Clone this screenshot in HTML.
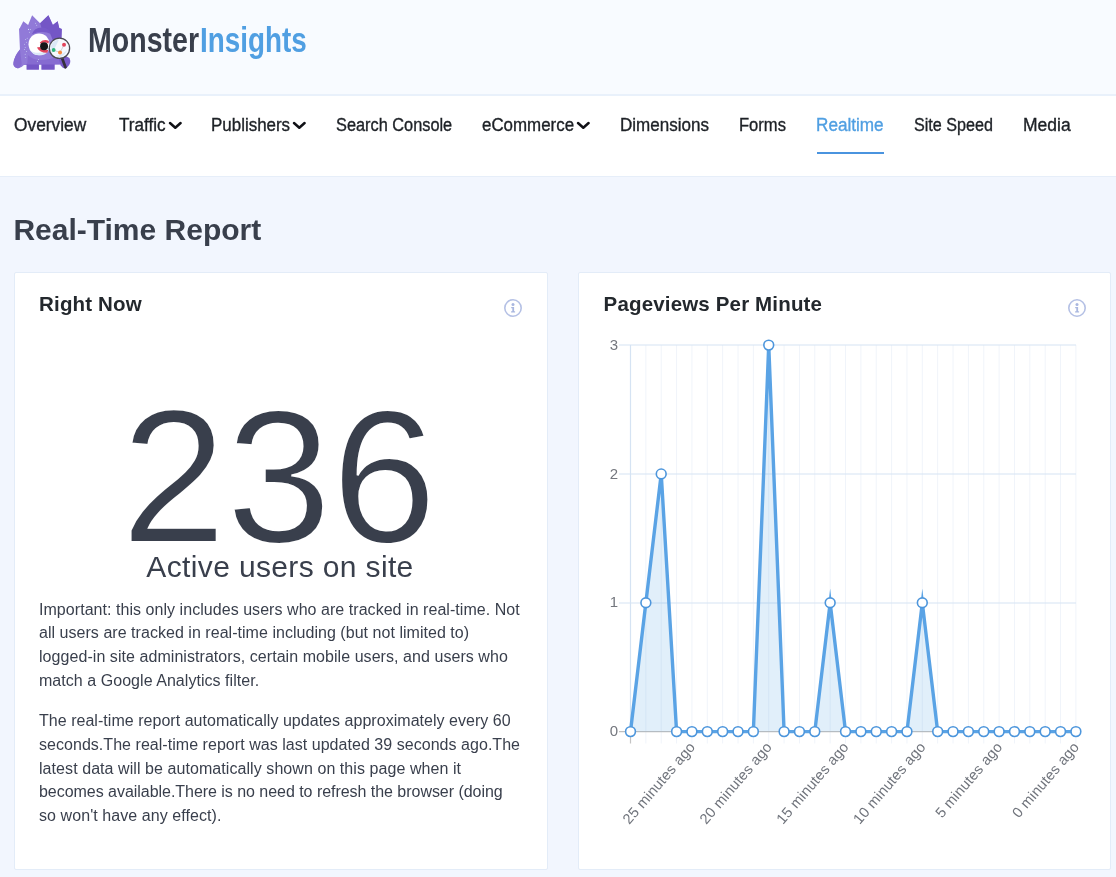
<!DOCTYPE html>
<html lang="en">
<head>
<meta charset="utf-8">
<title>MonsterInsights - Real-Time Report</title>
<style>
*{box-sizing:border-box;margin:0;padding:0}
html,body{width:1116px;height:877px;overflow:hidden}
body{background:#f2f6fe;font-family:"Liberation Sans",Arial,sans-serif;color:#393f4c;position:relative}
.header{position:absolute;left:0;top:0;width:1116px;height:94px;background:#f8fbff}
.hborder{position:absolute;left:0;top:94px;width:1116px;height:2px;background:#e9f1fb}
.logo-icon{position:absolute;left:8px;top:8px;width:72px;height:70px}
.lt{position:absolute;top:20.3px;font-weight:bold;font-size:35px;line-height:40px;white-space:nowrap;color:#393f4c;transform-origin:0 50%}
.lt1{left:88px;transform:scaleX(.8156)}
.lt2{left:200.4px;color:#509fe2;transform:scaleX(.796)}
.nav{position:absolute;left:0;top:96px;width:1116px;height:80px;background:#fff}
.nborder{position:absolute;left:0;top:176px;width:1116px;height:1px;background:#e6eef9}
.nav a{position:absolute;top:17px;height:24px;line-height:24px;font-size:18px;color:#1d2126;white-space:nowrap;text-decoration:none;transform-origin:0 50%;-webkit-text-stroke:.35px currentColor}
.nav a.act{color:#509fe2}
.nav .ul{position:absolute;left:817px;top:56px;width:67px;height:2px;background:#4a94df}
.nav .chev{position:absolute;top:24.4px}
h1{position:absolute;left:13.4px;top:212px;font-size:30px;line-height:36px;font-weight:bold;color:#393f4c;white-space:nowrap}
.card{position:absolute;top:271.5px;height:598px;background:#fff;border:1px solid #e3ecf8;border-radius:2px}
.c1{left:13.5px;width:534px}
.c2{left:578px;width:533px}
.card h2{position:absolute;left:24.6px;top:18px;font-size:20.5px;letter-spacing:.16px;line-height:26px;font-weight:bold;color:#23282d;white-space:nowrap}
.info{position:absolute}
.big{position:absolute;left:0;width:532px;text-align:center;top:373px;font-size:188.5px;line-height:206px;transform:scaleX(1.004);-webkit-text-stroke:2px #fff;color:#393f4c;white-space:nowrap}
.sub{position:absolute;left:0;width:532px;text-align:center;top:550px;font-size:30px;letter-spacing:.36px;line-height:34px;color:#393f4c;white-space:nowrap}
.txt{position:absolute;left:24.5px;font-size:16px;line-height:23.7px;color:#393f4c;white-space:nowrap}
.txt span{display:block;height:23.7px}
.chart{position:absolute;overflow:visible}
</style>
</head>
<body>
<div class="header">
  <svg class="logo-icon" viewBox="0 0 902 877">
<path d="M138,262 L150,248 L192,166 L252,212 L302,90 L402,192 L506,90 L562,212 L622,166 L642,252 L674,262 L668,420 L700,600 L660,705 L200,715 Q160,760 120,755 Q60,740 68,690 Q80,600 150,520 Z" fill="#917ad8"/>
<path d="M402,192 L506,90 L562,212 L622,166 L642,252 L674,262 L668,420 L560,400 L520,300 L420,250 Z" fill="#7456c6"/>
<path d="M300,330 Q330,240 430,245 Q520,250 545,330 Q430,270 300,330 Z" fill="#775ac9"/>
<path d="M68,690 Q80,600 150,520 L172,705 Q150,760 120,755 Q60,740 68,690 Z" fill="#866bd1"/>
<rect x="232" y="700" width="156" height="74" rx="8" fill="#7456c6"/>
<rect x="418" y="700" width="167" height="74" rx="8" fill="#7456c6"/>
<path d="M250,590 Q330,680 520,640 L700,600 L660,708 L240,708 Z" fill="#866bd1"/>
<g fill="#d7e6f8"><circle cx="258" cy="268" r="7"/><circle cx="282" cy="270" r="6"/><circle cx="268" cy="305" r="6"/><circle cx="218" cy="395" r="6"/><circle cx="240" cy="380" r="6"/><circle cx="208" cy="455" r="6"/><circle cx="230" cy="430" r="6"/><circle cx="215" cy="495" r="6"/><circle cx="205" cy="520" r="6"/><circle cx="232" cy="545" r="6"/><circle cx="215" cy="580" r="6"/><circle cx="222" cy="620" r="6"/><circle cx="345" cy="190" r="6"/><circle cx="360" cy="215" r="6"/><circle cx="382" cy="645" r="6"/><circle cx="368" cy="668" r="6"/></g>
<ellipse cx="389" cy="455" rx="132" ry="137" fill="#fff"/>
<path d="M262,500 Q300,600 420,592 Q500,582 520,500 Q450,570 350,560 Q290,550 262,500 Z" fill="#dbe8f7"/>
<path d="M398,432 Q450,385 512,412 L508,445 Q450,415 412,448 Z" fill="#e2445c"/>
<path d="M362,494 Q400,565 492,562 L505,525 Q430,535 396,488 Z" fill="#e2445c"/>
<circle cx="452" cy="480" r="50" fill="#17161a"/>
<path d="M630,610 Q700,580 770,625 Q800,690 740,745 Q700,775 660,720 Z" fill="#7a5bca"/>
<path d="M678,630 L720,742" stroke="#35303c" stroke-width="34" stroke-linecap="round"/>
<circle cx="645" cy="505" r="127" fill="#f6f9fe" stroke="#4b4a52" stroke-width="16"/>
<path d="M538,475 Q560,402 640,394 Q600,470 560,565 Q538,525 538,475 Z" fill="#dce8f7"/>
<path d="M590,595 Q660,605 742,525 Q700,615 640,618 Z" fill="#dce8f7"/>
<path d="M540,555 L572,528 L652,558 L702,460" fill="none" stroke="#a9a9ad" stroke-width="6"/>
<circle cx="572" cy="526" r="24" fill="#2fb57c"/>
<circle cx="652" cy="558" r="25" fill="#f68a40"/>
<circle cx="702" cy="460" r="25" fill="#e2445c"/>
</svg>
  <div class="lt lt1">Monster</div><div class="lt lt2">Insights</div>
</div>
<div class="hborder"></div>
<div class="nav">
  <a style="left:13.63px;transform:scaleX(0.9624)">Overview</a>
  <a style="left:118.76px;transform:scaleX(0.9513)">Traffic</a>
  <a style="left:210.98px;transform:scaleX(0.9410)">Publishers</a>
  <a style="left:335.66px;transform:scaleX(0.9073)">Search Console</a>
  <a style="left:482.34px;transform:scaleX(0.9395)">eCommerce</a>
  <a style="left:619.62px;transform:scaleX(0.9453)">Dimensions</a>
  <a style="left:739.35px;transform:scaleX(0.9198)">Forms</a>
  <a class="act" style="left:816.46px;transform:scaleX(0.9522)">Realtime</a>
  <a style="left:914.33px;transform:scaleX(0.8974)">Site Speed</a>
  <a style="left:1022.79px;transform:scaleX(0.9717)">Media</a>
  <svg class="chev" style="left:166.5px" width="16" height="12" viewBox="-3 -3 16 12"><path d="M0,0 L5.3,4.7 L10.6,0" fill="none" stroke="#101116" stroke-width="2.5" stroke-linecap="round" stroke-linejoin="round"/></svg>
  <svg class="chev" style="left:291.1px" width="16" height="12" viewBox="-3 -3 16 12"><path d="M0,0 L5.3,4.7 L10.6,0" fill="none" stroke="#101116" stroke-width="2.5" stroke-linecap="round" stroke-linejoin="round"/></svg>
  <svg class="chev" style="left:575.3px" width="16" height="12" viewBox="-3 -3 16 12"><path d="M0,0 L5.3,4.7 L10.6,0" fill="none" stroke="#101116" stroke-width="2.5" stroke-linecap="round" stroke-linejoin="round"/></svg>
  <div class="ul"></div>
</div>
<div class="nborder"></div>
<h1>Real-Time Report</h1>
<div class="card c1">
  <h2>Right Now</h2>
  <svg class="info" style="left:486.0px;top:23.5px" width="24" height="24" viewBox="-12 -12 24 24"><circle r="8.2" fill="none" stroke="#b5c1e5" stroke-width="1.6"/><circle cy="-3.6" r="1.5" fill="#a9b7e0"/><path d="M-1.8,-0.9 H1.1 V3.3 H2.1 V4.4 H-1.9 V3.3 H-0.7 V0.3 H-1.8 Z" fill="#a9b7e0"/></svg>
  <div class="big" style="left:-1.5px;top:101.5px">236</div>
  <div class="sub" style="left:-.5px;top:277.5px">Active users on site</div>
<div class="txt" style="top:325.15px">
<span style="letter-spacing:0.047px">Important: this only includes users who are tracked in real-time. Not</span>
<span style="letter-spacing:0.037px">all users are tracked in real-time including (but not limited to)</span>
<span style="letter-spacing:0.057px">logged-in site administrators, certain mobile users, and users who</span>
<span style="letter-spacing:0.045px">match a Google Analytics filter.</span>
</div>
<div class="txt" style="top:436.75px">
<span style="letter-spacing:0.033px">The real-time report automatically updates approximately every 60</span>
<span style="letter-spacing:0.040px">seconds.The real-time report was last updated 39 seconds ago.The</span>
<span style="letter-spacing:0.068px">latest data will be automatically shown on this page when it</span>
<span style="letter-spacing:-0.037px">becomes available.There is no need to refresh the browser (doing</span>
<span style="letter-spacing:0.072px">so won't have any effect).</span>
</div>
</div>
<div class="card c2">
  <h2>Pageviews Per Minute</h2>
  <svg class="info" style="left:485.6px;top:23.5px" width="24" height="24" viewBox="-12 -12 24 24"><circle r="8.2" fill="none" stroke="#b5c1e5" stroke-width="1.6"/><circle cy="-3.6" r="1.5" fill="#a9b7e0"/><path d="M-1.8,-0.9 H1.1 V3.3 H2.1 V4.4 H-1.9 V3.3 H-0.7 V0.3 H-1.8 Z" fill="#a9b7e0"/></svg>
<svg class="chart" width="1116" height="877" viewBox="0 0 1116 877" style="left:-579px;top:-272.5px">
<g stroke="#f0f4fa" stroke-width="1">
<line x1="645.86" y1="345" x2="645.86" y2="743.5"/>
<line x1="661.22" y1="345" x2="661.22" y2="743.5"/>
<line x1="676.58" y1="345" x2="676.58" y2="743.5"/>
<line x1="691.93" y1="345" x2="691.93" y2="743.5"/>
<line x1="707.29" y1="345" x2="707.29" y2="743.5"/>
<line x1="722.65" y1="345" x2="722.65" y2="743.5"/>
<line x1="738.01" y1="345" x2="738.01" y2="743.5"/>
<line x1="753.37" y1="345" x2="753.37" y2="743.5"/>
<line x1="768.73" y1="345" x2="768.73" y2="743.5"/>
<line x1="784.09" y1="345" x2="784.09" y2="743.5"/>
<line x1="799.44" y1="345" x2="799.44" y2="743.5"/>
<line x1="814.80" y1="345" x2="814.80" y2="743.5"/>
<line x1="830.16" y1="345" x2="830.16" y2="743.5"/>
<line x1="845.52" y1="345" x2="845.52" y2="743.5"/>
<line x1="860.88" y1="345" x2="860.88" y2="743.5"/>
<line x1="876.24" y1="345" x2="876.24" y2="743.5"/>
<line x1="891.60" y1="345" x2="891.60" y2="743.5"/>
<line x1="906.96" y1="345" x2="906.96" y2="743.5"/>
<line x1="922.31" y1="345" x2="922.31" y2="743.5"/>
<line x1="937.67" y1="345" x2="937.67" y2="743.5"/>
<line x1="953.03" y1="345" x2="953.03" y2="743.5"/>
<line x1="968.39" y1="345" x2="968.39" y2="743.5"/>
<line x1="983.75" y1="345" x2="983.75" y2="743.5"/>
<line x1="999.11" y1="345" x2="999.11" y2="743.5"/>
<line x1="1014.47" y1="345" x2="1014.47" y2="743.5"/>
<line x1="1029.82" y1="345" x2="1029.82" y2="743.5"/>
<line x1="1045.18" y1="345" x2="1045.18" y2="743.5"/>
<line x1="1060.54" y1="345" x2="1060.54" y2="743.5"/>
<line x1="1075.90" y1="345" x2="1075.90" y2="743.5"/>
</g>
<line x1="630.50" y1="345" x2="630.50" y2="731" stroke="#d5e3f3" stroke-width="1.2"/>
<line x1="630.50" y1="731" x2="630.50" y2="743.5" stroke="#c4c4c4" stroke-width="1.2"/>
<g stroke="#d6e3f3" stroke-width="1.1">
<line x1="619" y1="603.00" x2="1076" y2="603.00"/>
<line x1="619" y1="474.05" x2="1076" y2="474.05"/>
<line x1="619" y1="345.05" x2="1076" y2="345.05"/>
</g>
<line x1="619" y1="731.60" x2="1076" y2="731.60" stroke="#bfbfbf" stroke-width="1.2"/>
<polygon points="630.50,731.60 645.86,602.77 661.22,473.93 676.58,731.60 691.93,731.60 707.29,731.60 722.65,731.60 738.01,731.60 753.37,731.60 768.73,345.10 784.09,731.60 799.44,731.60 814.80,731.60 830.16,602.77 845.52,731.60 860.88,731.60 876.24,731.60 891.60,731.60 906.96,731.60 922.31,602.77 937.67,731.60 953.03,731.60 968.39,731.60 983.75,731.60 999.11,731.60 1014.47,731.60 1029.82,731.60 1045.18,731.60 1060.54,731.60 1075.90,731.60" fill="#509fe2" fill-opacity=".17"/>
<polyline points="630.50,731.60 645.86,602.77 661.22,473.93 676.58,731.60 691.93,731.60 707.29,731.60 722.65,731.60 738.01,731.60 753.37,731.60 768.73,345.10 784.09,731.60 799.44,731.60 814.80,731.60 830.16,602.77 845.52,731.60 860.88,731.60 876.24,731.60 891.60,731.60 906.96,731.60 922.31,602.77 937.67,731.60 953.03,731.60 968.39,731.60 983.75,731.60 999.11,731.60 1014.47,731.60 1029.82,731.60 1045.18,731.60 1060.54,731.60 1075.90,731.60" fill="none" stroke="#5aa3e5" stroke-width="3.4" stroke-linejoin="miter" stroke-miterlimit="10"/>
<g fill="#fff" stroke="#4d96dc" stroke-width="1.6">
<circle cx="630.50" cy="731.60" r="4.9"/>
<circle cx="645.86" cy="602.77" r="4.9"/>
<circle cx="661.22" cy="473.93" r="4.9"/>
<circle cx="676.58" cy="731.60" r="4.9"/>
<circle cx="691.93" cy="731.60" r="4.9"/>
<circle cx="707.29" cy="731.60" r="4.9"/>
<circle cx="722.65" cy="731.60" r="4.9"/>
<circle cx="738.01" cy="731.60" r="4.9"/>
<circle cx="753.37" cy="731.60" r="4.9"/>
<circle cx="768.73" cy="345.10" r="4.9"/>
<circle cx="784.09" cy="731.60" r="4.9"/>
<circle cx="799.44" cy="731.60" r="4.9"/>
<circle cx="814.80" cy="731.60" r="4.9"/>
<circle cx="830.16" cy="602.77" r="4.9"/>
<circle cx="845.52" cy="731.60" r="4.9"/>
<circle cx="860.88" cy="731.60" r="4.9"/>
<circle cx="876.24" cy="731.60" r="4.9"/>
<circle cx="891.60" cy="731.60" r="4.9"/>
<circle cx="906.96" cy="731.60" r="4.9"/>
<circle cx="922.31" cy="602.77" r="4.9"/>
<circle cx="937.67" cy="731.60" r="4.9"/>
<circle cx="953.03" cy="731.60" r="4.9"/>
<circle cx="968.39" cy="731.60" r="4.9"/>
<circle cx="983.75" cy="731.60" r="4.9"/>
<circle cx="999.11" cy="731.60" r="4.9"/>
<circle cx="1014.47" cy="731.60" r="4.9"/>
<circle cx="1029.82" cy="731.60" r="4.9"/>
<circle cx="1045.18" cy="731.60" r="4.9"/>
<circle cx="1060.54" cy="731.60" r="4.9"/>
<circle cx="1075.90" cy="731.60" r="4.9"/>
</g>
<g font-family="Liberation Sans, Arial, sans-serif" font-size="15" fill="#74777e" text-anchor="end">
<text x="618" y="736.20">0</text>
<text x="618" y="607.37">1</text>
<text x="618" y="478.53">2</text>
<text x="618" y="349.70">3</text>
</g>
<g font-family="Liberation Sans, Arial, sans-serif" font-size="14.6" letter-spacing=".18" fill="#70747c" text-anchor="end">
<text transform="translate(695.93,747.40) rotate(-49.4)" x="0" y="0">25 minutes ago</text>
<text transform="translate(772.73,747.40) rotate(-49.4)" x="0" y="0">20 minutes ago</text>
<text transform="translate(849.52,747.40) rotate(-49.4)" x="0" y="0">15 minutes ago</text>
<text transform="translate(926.31,747.40) rotate(-49.4)" x="0" y="0">10 minutes ago</text>
<text transform="translate(1003.11,747.40) rotate(-49.4)" x="0" y="0">5 minutes ago</text>
<text transform="translate(1079.90,747.40) rotate(-49.4)" x="0" y="0">0 minutes ago</text>
</g>
</svg>
</div>
</body>
</html>
